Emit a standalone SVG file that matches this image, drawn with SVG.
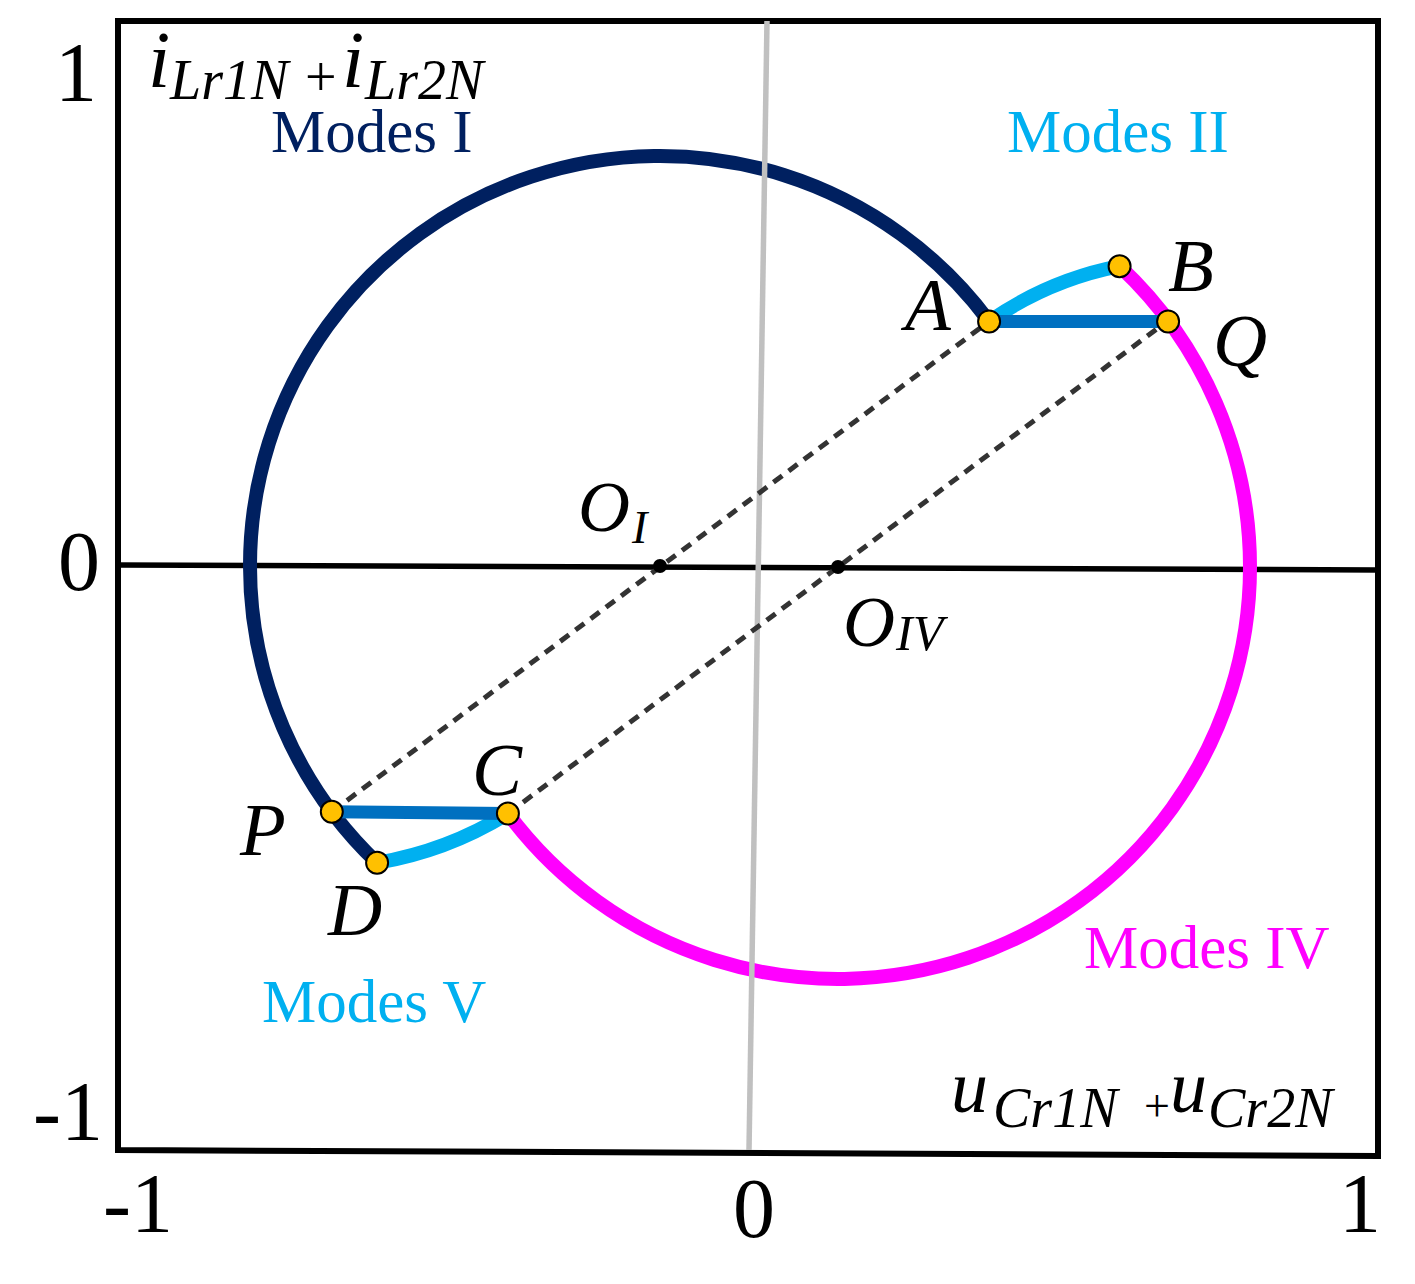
<svg xmlns="http://www.w3.org/2000/svg" width="1415" height="1284" viewBox="0 0 1415 1284">
<style>
text{font-family:"Liberation Serif","Times New Roman",serif;}
.tick{font-size:84px;fill:#000;}
.it{font-style:italic;fill:#000;}
.mode{font-size:61px;}
.arc{fill:none;stroke-width:14;stroke-linecap:butt;}
.dash{fill:none;stroke:#333;stroke-width:5;stroke-dasharray:11 8;}
.seg{stroke:#0070C0;stroke-width:13;}
.pt{fill:#FFC000;stroke:#000;stroke-width:2;}
</style>
<rect width="1415" height="1284" fill="#fff"/>
<g id="frame">
<polygon points="118,21 1378,21 1378,1156 118,1150" fill="none" stroke="#000" stroke-width="6" stroke-linejoin="miter"/>
<line x1="118" y1="565" x2="1378" y2="570" stroke="#000" stroke-width="5.5"/>
</g>
<g id="ticks">
<text class="tick" x="55" y="101">1</text>
<text class="tick" x="58" y="590">0</text>
<text class="tick" x="33" y="1140">-1</text>
<text class="tick" x="103" y="1232">-1</text>
<text class="tick" x="733" y="1237">0</text>
<text class="tick" x="1339" y="1232">1</text>
</g>
<g id="arcs">
<path id="modeI" class="arc" stroke="#002060" d="M989.1,321.4 A410,410 0 0 0 250,566 A410,410 0 0 0 377.1,862.8"/>
<path id="modeIV" class="arc" stroke="#FF00FF" d="M1119.6,266.2 A412,412 0 0 1 1250,567 A412,412 0 0 1 507.9,813.5"/>
<path id="modeII" class="arc" stroke="#00B0F0" d="M989.1,321.4 Q1049,280 1119.6,266.2"/>
<path id="modeV" class="arc" stroke="#00B0F0" d="M377.1,862.8 Q447,851 507.9,813.5"/>
</g>
<line id="vaxis" x1="767" y1="21" x2="749" y2="1150" stroke="#C0C0C0" stroke-width="5.5"/>
<g id="connectors">
<line class="dash" x1="331.8" y1="811.8" x2="989.1" y2="321.4"/>
<line class="dash" x1="507.9" y1="813.5" x2="1168.1" y2="320.5"/>
<line class="seg" x1="989.1" y1="321.4" x2="1168.1" y2="321.4"/>
<line class="seg" x1="331.8" y1="811.8" x2="507.9" y2="813.5"/>
</g>
<g id="centers">
<circle cx="660" cy="566" r="7" fill="#000"/>
<circle cx="838" cy="567" r="7" fill="#000"/>
</g>
<g id="points">
<circle id="pA" class="pt" cx="989.1" cy="321.4" r="11"/>
<circle id="pB" class="pt" cx="1119.6" cy="266.2" r="11"/>
<circle id="pQ" class="pt" cx="1168.1" cy="321.4" r="11"/>
<circle id="pC" class="pt" cx="507.9" cy="813.5" r="11"/>
<circle id="pP" class="pt" cx="331.8" cy="811.8" r="11"/>
<circle id="pD" class="pt" cx="377.1" cy="862.8" r="11"/>
</g>
<g id="point-labels" font-size="75">
<text class="it" x="905" y="330">A</text>
<text class="it" x="1168" y="291">B</text>
<text class="it" x="1213" y="366">Q</text>
<text class="it" x="472" y="795">C</text>
<text class="it" x="240" y="855">P</text>
<text class="it" x="328" y="935">D</text>
</g>
<g id="center-labels">
<text class="it" font-size="72" x="578" y="531">O</text>
<text class="it" font-size="46" x="632" y="543">I</text>
<text class="it" font-size="72" x="843" y="646">O</text>
<text class="it" font-size="50" x="896" y="650">IV</text>
</g>
<g id="mode-labels">
<text class="mode" x="271" y="152" fill="#002060">Modes I</text>
<text class="mode" x="1007" y="152" fill="#00B0F0">Modes II</text>
<text class="mode" x="1084" y="968" fill="#FF00FF">Modes IV</text>
<text class="mode" x="262" y="1022" fill="#00B0F0">Modes V</text>
</g>
<g id="axis-labels">
<text class="it" font-size="80" x="148" y="87">i</text>
<text class="it" font-size="56" x="170" y="99">Lr1N</text>
<text font-size="56" x="305" y="96">+</text>
<text class="it" font-size="80" x="342" y="87">i</text>
<text class="it" font-size="56" x="365" y="99">Lr2N</text>
<text class="it" font-size="74" x="951" y="1112">u</text>
<text class="it" font-size="56" x="993" y="1127">Cr1N</text>
<text font-size="46" x="1144" y="1121">+</text>
<text class="it" font-size="74" x="1170" y="1112">u</text>
<text class="it" font-size="56" x="1208" y="1127">Cr2N</text>
</g>
</svg>
